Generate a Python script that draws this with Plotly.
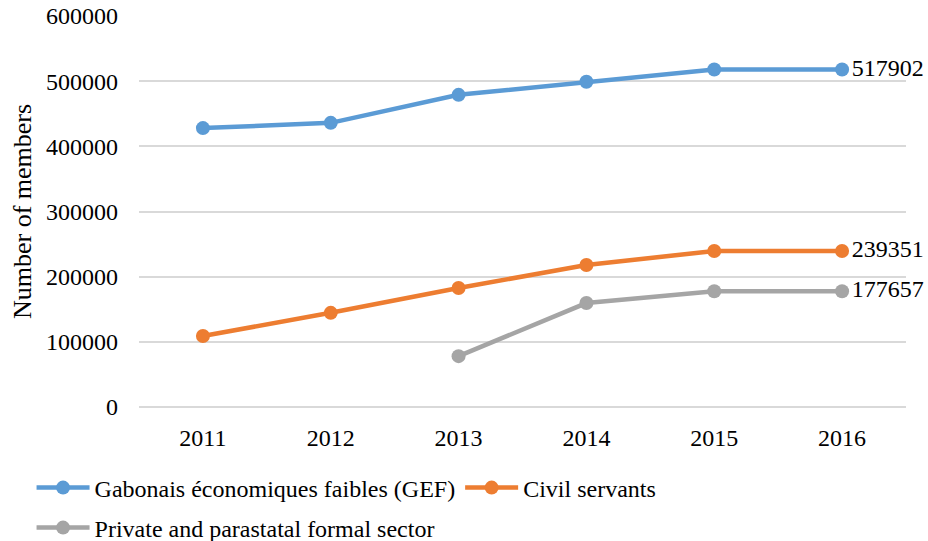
import plotly.graph_objects as go

years = ["2011", "2012", "2013", "2014", "2015", "2016"]
gef = [428000, 436000, 479000, 499000, 518000, 517902]
civil = [109000, 144500, 182500, 218000, 239351, 239351]
private = [None, None, 78000, 159500, 177657, 177657]

series = [
    ("Gabonais économiques faibles (GEF)", gef, "#5B9BD5", "legend"),
    ("Civil servants", civil, "#ED7D31", "legend"),
    ("Private and parastatal formal sector", private, "#A5A5A5", "legend2"),
]

FONT = "Liberation Serif"

fig = go.Figure()
for name, vals, color, leg in series:
    # only the last point carries a value label
    labels = [""] * (len(vals) - 1) + [str(vals[-1])]
    fig.add_trace(go.Scatter(
        x=years, y=vals, name=name, legend=leg,
        mode="lines+markers+text",
        text=labels, textposition="middle right",
        textfont=dict(family=FONT, size=24, color="#000000"),
        line=dict(color=color, width=4.5),
        marker=dict(color=color, size=14),
        connectgaps=False,
        cliponaxis=False,
    ))

legend_style = dict(
    orientation="h", xref="container", yref="container",
    xanchor="left", yanchor="middle",
    itemwidth=53, tracegroupgap=0,
    font=dict(family=FONT, size=24, color="#000000"),
    bgcolor="rgba(0,0,0,0)",
)

fig.update_layout(
    width=928, height=541,
    paper_bgcolor="#ffffff",
    plot_bgcolor="#ffffff",
    font=dict(family=FONT, color="#000000", size=24),
    margin=dict(l=139, r=22, t=16, b=134, autoexpand=False),
    xaxis=dict(
        type="category", range=[-0.5, 5.5], automargin=False,
        showgrid=False, showline=False, ticks="", ticklen=0,
        ticklabelstandoff=14,
    ),
    yaxis=dict(
        range=[0, 600000], dtick=100000, tickformat="d", automargin=False,
        showgrid=True, gridcolor="#D9D9D9", gridwidth=1.5,
        zeroline=True, zerolinecolor="#D9D9D9", zerolinewidth=1.5,
        ticks="", ticklen=0, ticklabelstandoff=20,
        title=dict(text="Number of members", font=dict(family=FONT, size=26), standoff=6),
    ),
    legend=dict(x=0.034, y=1 - 488 / 541, **legend_style),
    legend2=dict(x=0.034, y=1 - 528 / 541, **legend_style),
    showlegend=True,
)

fig.write_html(
    "out.html",
    config={"displayModeBar": False},
    post_script="document.body.style.margin='0';",
)
